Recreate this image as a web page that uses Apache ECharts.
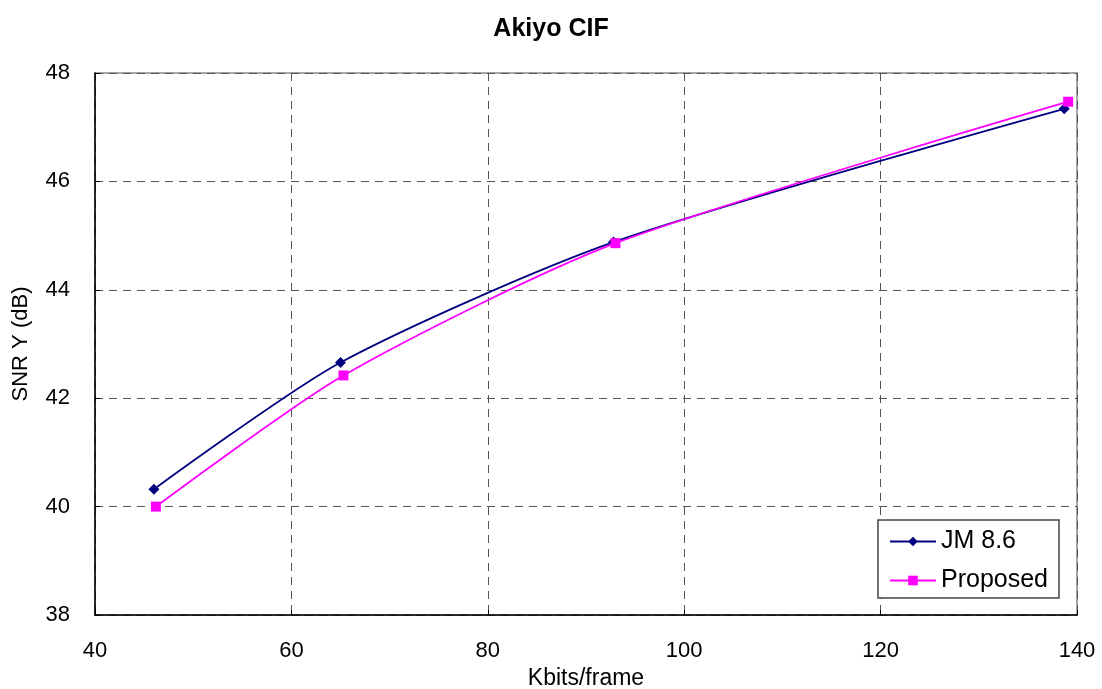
<!DOCTYPE html>
<html><head><meta charset="utf-8">
<script src="https://cdn.jsdelivr.net/npm/echarts@6/dist/echarts.min.js"></script>
<style>html,body{margin:0;padding:0;background:#fff}#c{width:1102px;height:689px}</style>
</head><body><div id="c"></div>
<script>
const jmX = [46.0, 65.0, 92.8, 138.7];
const jmY = [40.32, 42.66, 44.88, 47.34];
const propX = [46.2, 65.3, 93.0, 139.1];
const propY = [40.0, 42.42, 44.86, 47.47];
const seriesNames = ['JM 8.6', 'Proposed'];
const titleText = 'Akiyo CIF';
const xName = 'Kbits/frame';
const yName = 'SNR Y (dB)';

const pair = (xs, ys) => xs.map((x, i) => [x, ys[i]]);
const font = 'Liberation Sans, Arial, sans-serif';
const chart = echarts.init(document.getElementById('c'), null, {renderer: 'canvas'});
chart.setOption({
  animation: false,
  backgroundColor: '#fff',
  title: {text: titleText, left: 'center', top: 12, textStyle: {fontFamily: font, fontSize: 25, fontWeight: 'bold', color: '#000'}},
  grid: {left: 95, right: 25, top: 73, bottom: 74, show: true, borderColor: '#888', borderWidth: 1.5,
         containLabel: false, outerBoundsMode: 'none'},
  xAxis: {
    type: 'value', min: 40, max: 140, interval: 20,
    name: xName, nameLocation: 'middle', nameGap: 45,
    nameTextStyle: {fontFamily: font, fontSize: 23, color: '#000'},
    axisLine: {show: true, lineStyle: {color: '#000', width: 1.5}},
    axisTick: {show: true, inside: true, length: 5, lineStyle: {color: '#000'}},
    axisLabel: {fontFamily: font, fontSize: 22, color: '#000', margin: 25},
    splitLine: {show: true, lineStyle: {color: '#555', type: [8, 6], width: 1}}
  },
  yAxis: {
    type: 'value', min: 38, max: 48, interval: 2,
    name: yName, nameLocation: 'middle', nameGap: 63,
    nameTextStyle: {fontFamily: font, fontSize: 22, color: '#000'},
    axisLine: {show: true, lineStyle: {color: '#000', width: 1.5}},
    axisTick: {show: true, inside: true, length: 5, lineStyle: {color: '#000'}},
    axisLabel: {fontFamily: font, fontSize: 22, color: '#000', margin: 25},
    splitLine: {show: true, lineStyle: {color: '#555', type: [8, 6], width: 1}}
  },
  legend: {
    orient: 'vertical', right: 43, bottom: 91,
    backgroundColor: '#fff', borderColor: '#444', borderWidth: 1.5,
    padding: [9, 11, 5, 11], itemGap: 14, itemWidth: 46, itemHeight: 12,
    textStyle: {fontFamily: font, fontSize: 25, color: '#000'},
    data: seriesNames
  },
  series: [
    {name: seriesNames[0], type: 'line', smooth: 0.25, data: pair(jmX, jmY),
     symbol: 'diamond', symbolSize: 11, color: '#000080', lineStyle: {width: 1.8, color: '#000080'}, itemStyle: {color: '#000080'}},
    {name: seriesNames[1], type: 'line', smooth: 0.25, data: pair(propX, propY),
     symbol: 'rect', symbolSize: 10, color: '#ff00ff', lineStyle: {width: 1.8, color: '#ff00ff'}, itemStyle: {color: '#ff00ff'}}
  ]
});
</script></body></html>
